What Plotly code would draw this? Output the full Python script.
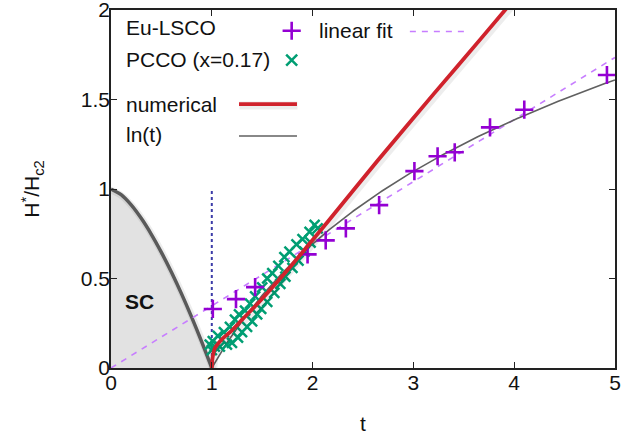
import numpy as np
import plotly.graph_objects as go

# Eu-LSCO data (purple crosses)
eu_t = [1.01, 1.24, 1.43, 1.95, 2.13, 2.33, 2.66, 3.01, 3.24, 3.41, 3.76, 4.10, 4.92]
eu_h = [0.33, 0.385, 0.452, 0.635, 0.713, 0.78, 0.91, 1.10, 1.183, 1.205, 1.344, 1.443, 1.637]

# PCCO (x=0.17) data (green x's)
pcco_t = [0.98, 1.00, 1.01, 1.03, 1.06, 1.08, 1.12, 1.15, 1.18, 1.20, 1.23, 1.26, 1.27, 1.30,
          1.33, 1.35, 1.38, 1.40, 1.43, 1.45, 1.50, 1.49, 1.55, 1.55, 1.60, 1.62, 1.66, 1.68,
          1.72, 1.73, 1.77, 1.80, 1.84, 1.86, 1.90, 1.92, 1.97, 1.98, 2.02, 2.05]
pcco_h = [0.13, 0.10, 0.15, 0.12, 0.18, 0.12, 0.20, 0.13, 0.23, 0.14, 0.27, 0.17, 0.30, 0.20,
          0.32, 0.23, 0.36, 0.26, 0.40, 0.30, 0.45, 0.33, 0.50, 0.37, 0.53, 0.42, 0.57, 0.47,
          0.62, 0.51, 0.65, 0.56, 0.69, 0.60, 0.72, 0.65, 0.76, 0.70, 0.80, 0.78]

# numerical solution
num_t = [1.0, 1.005, 1.015, 1.03, 1.06, 1.10, 1.20, 1.30, 1.43, 1.60, 1.80, 2.00, 2.14, 2.64, 3.20, 3.67, 4.00]
num_h = [0.0, 0.045, 0.08, 0.11, 0.135, 0.16, 0.21, 0.27, 0.345, 0.45, 0.58, 0.715, 0.81, 1.155, 1.53, 1.84, 2.06]

# superconducting dome H_c2(t)/H_c2(0)
sc_t = [0.0, 0.1, 0.2, 0.3, 0.4, 0.5, 0.6, 0.7, 0.8, 0.9, 1.0]
sc_h = [1.0, 0.968, 0.911, 0.836, 0.747, 0.646, 0.535, 0.414, 0.284, 0.146, 0.0]

# linear fit through the origin
fit_slope = 0.347
fit_t = [0.0, 5.0]

# ln(t) curve
ln_t = np.linspace(1.0, 5.0, 200)
ln_h = np.log(ln_t)

x_ticks = [0, 1, 2, 3, 4, 5]
y_ticks = [0, 0.5, 1, 1.5, 2]
y_tick_text = ["0", "0.5", "1", "1.5", "2"]

PURPLE = "#9400d3"
GREEN = "#009e73"
RED = "#d0222c"
GRAY = "#606060"
DASH = "#c77dff"
SHADOW = "rgba(0,0,0,0.07)"
FONT = "Liberation Sans, Arial, Helvetica, sans-serif"

fig = go.Figure()

# filled SC region
fig.add_trace(go.Scatter(x=sc_t, y=sc_h, mode="lines", line=dict(color="rgba(0,0,0,0)", shape="spline"),
                         fill="tozeroy", fillcolor="#e2e2e2", hoverinfo="skip"))
# soft shadow under the dome line
fig.add_trace(go.Scatter(x=[t + 0.012 for t in sc_t], y=[h - 0.008 for h in sc_h], mode="lines",
                         line=dict(color=SHADOW, width=7, shape="spline")))
fig.add_trace(go.Scatter(x=sc_t, y=sc_h, mode="lines", line=dict(color="#5a5a5a", width=3.5, shape="spline")))

# vertical dotted marker at t = 1
fig.add_trace(go.Scatter(x=[1, 1], y=[0, 1], mode="lines", line=dict(color="#3c3ca8", width=2, dash="dot")))

# linear fit
fig.add_trace(go.Scatter(x=fit_t, y=[fit_slope * t for t in fit_t], mode="lines",
                         line=dict(color=DASH, width=1.6, dash="6px,6px")))

# ln(t)
fig.add_trace(go.Scatter(x=ln_t, y=ln_h, mode="lines", line=dict(color=GRAY, width=1.6)))

# data points
fig.add_trace(go.Scatter(x=pcco_t, y=pcco_h, mode="markers",
                         marker=dict(symbol="x-thin", size=10, line=dict(color=GREEN, width=2.5))))
fig.add_trace(go.Scatter(x=eu_t, y=eu_h, mode="markers",
                         marker=dict(symbol="cross-thin", size=13, line=dict(color=PURPLE, width=2.6))))

# numerical curve with shadow
fig.add_trace(go.Scatter(x=[t + 0.015 for t in num_t], y=[h - 0.01 for h in num_h], mode="lines",
                         line=dict(color=SHADOW, width=8, shape="spline", smoothing=0.6)))
fig.add_trace(go.Scatter(x=num_t, y=num_h, mode="lines",
                         line=dict(color=RED, width=3.8, shape="spline", smoothing=0.6)))

# legend samples drawn on an overlay axis spanning the plot area
def key(x, y, **kw):
    fig.add_trace(go.Scatter(x=x, y=y, xaxis="x2", yaxis="y2", cliponaxis=False, **kw))

key([0.3585], [0.942], mode="markers", marker=dict(symbol="cross-thin", size=13, line=dict(color=PURPLE, width=2.6)))
key([0.3585], [0.860], mode="markers", marker=dict(symbol="x-thin", size=11, line=dict(color=GREEN, width=2.5)))
key([0.593, 0.712], [0.940, 0.940], mode="lines", line=dict(color=DASH, width=1.6, dash="6px,6px"))
key([0.255, 0.370], [0.733, 0.733], mode="lines", line=dict(color=SHADOW, width=8))
key([0.254, 0.369], [0.737, 0.737], mode="lines", line=dict(color=RED, width=3.8))
key([0.254, 0.369], [0.648, 0.648], mode="lines", line=dict(color=GRAY, width=1.6))

labels = [
    ("Eu-LSCO", 0.026, 0.950),
    ("linear fit", 0.409, 0.944),
    ("PCCO (x=0.17)", 0.026, 0.863),
    ("numerical", 0.026, 0.737),
    ("ln(t)", 0.026, 0.651),
]
annotations = [dict(text=s, x=x, y=y, xref="x2", yref="y2", xanchor="left", yanchor="middle",
                    showarrow=False, font=dict(family=FONT, size=21, color="#111"))
               for s, x, y in labels]
annotations.append(dict(text="<b>SC</b>", x=0.28, y=0.37, xref="x", yref="y", showarrow=False,
                        font=dict(family=FONT, size=21, color="#111")))

axis_common = dict(showline=True, linecolor="#222", linewidth=1.5, mirror="ticks", ticks="inside",
                   ticklen=6, tickwidth=1, tickcolor="#222", showgrid=False, zeroline=False,
                   ticklabeloverflow="allow", automargin=False,
                   tickfont=dict(family=FONT, size=21, color="#111"))

fig.update_layout(
    width=623, height=437,
    margin=dict(l=111, r=8, t=10, b=69),
    paper_bgcolor="white", plot_bgcolor="white",
    showlegend=False,
    annotations=annotations,
    xaxis=dict(range=[0, 5], tickvals=x_ticks, ticklabelstandoff=-5,
               title=dict(text="t", font=dict(family=FONT, size=21, color="#111"), standoff=23),
               **axis_common),
    yaxis=dict(range=[0, 2], tickvals=y_ticks, ticktext=y_tick_text, ticklabelstandoff=-5,
               title=dict(text="H<sup>*</sup>/H<sub>c2</sub>", font=dict(family=FONT, size=21, color="#111"),
                          standoff=35),
               **axis_common),
    xaxis2=dict(range=[0, 1], overlaying="x", visible=False, fixedrange=True),
    yaxis2=dict(range=[0, 1], overlaying="y", visible=False, fixedrange=True),
)

fig.write_html("out.html")
